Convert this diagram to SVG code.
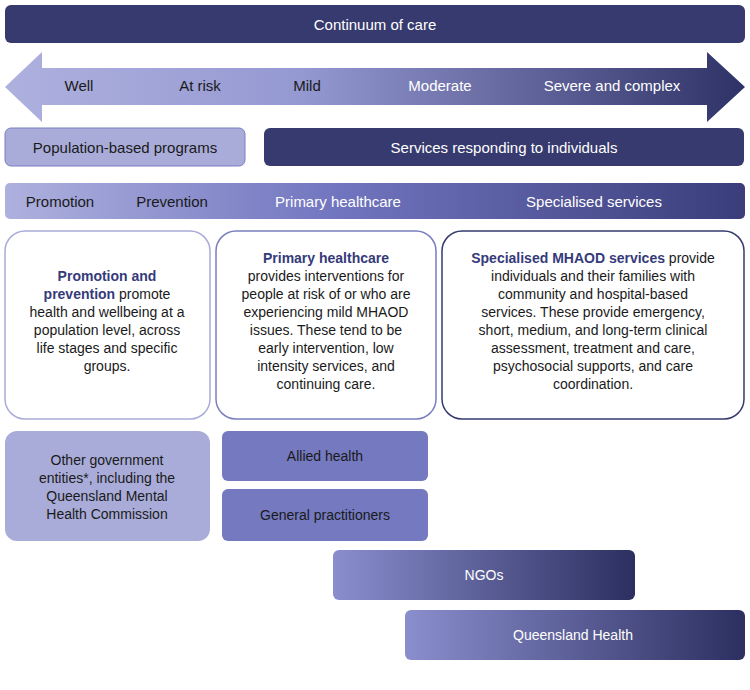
<svg xmlns="http://www.w3.org/2000/svg" width="750" height="690" viewBox="0 0 750 690">
<defs>
<linearGradient id="gArrow" x1="0" x2="1" y1="0" y2="0"><stop offset="0" stop-color="#aeb1de"/><stop offset="0.4" stop-color="#9599d2"/><stop offset="1" stop-color="#2f3266"/></linearGradient>
<linearGradient id="gBar" x1="0" x2="1" y1="0" y2="0"><stop offset="0" stop-color="#aeb1de"/><stop offset="0.45" stop-color="#7175bf"/><stop offset="1" stop-color="#3a3d7a"/></linearGradient>
<linearGradient id="gBox" x1="0" x2="1" y1="0" y2="0"><stop offset="0" stop-color="#8a8ecd"/><stop offset="1" stop-color="#2c2f60"/></linearGradient>
<style>
text{font-family:"Liberation Sans",Arial,sans-serif;font-size:15px;fill:#1a1a1a}
.w{fill:#fff}
.c{text-anchor:middle}
.b{font-size:14px}
.h{font-weight:bold;fill:#353a7a}
</style>
</defs>
<g id="continuum"><rect x="5" y="5" width="740" height="38" rx="6" fill="#363a6e"/><text class="w c" x="375" y="30">Continuum of care</text></g>
<g id="arrow"><path d="M5 87 L42 52 L42 68 L707 68 L707 52 L745 87 L707 122 L707 105 L42 105 L42 122 Z" fill="url(#gArrow)"/>
<text class="c" x="79" y="91">Well</text><text class="c" x="200" y="91">At risk</text><text class="c" x="307" y="91">Mild</text><text class="w c" x="440" y="91">Moderate</text><text class="w c" x="612" y="91">Severe and complex</text></g>
<g id="pop"><rect x="5" y="128" width="240" height="38" rx="6" fill="#a9acd9" stroke="#7a7fc0"/><text class="c" x="125" y="153">Population-based programs</text></g>
<g id="serv"><rect x="264" y="128" width="480" height="38" rx="6" fill="#363a6e"/><text class="w c" x="504" y="153">Services responding to individuals</text></g>
<g id="bar"><rect x="5" y="183" width="740" height="36" rx="5" fill="url(#gBar)"/>
<text class="c" x="60" y="207">Promotion</text><text class="c" x="172" y="207">Prevention</text><text class="w c" x="338" y="207">Primary healthcare</text><text class="w c" x="594" y="207">Specialised services</text></g>
<g id="box1"><rect x="5" y="231" width="205" height="188" rx="20" fill="#fff" stroke="#a9acd9" stroke-width="1.5"/>
<text class="b c" x="107" y="281"><tspan class="h">Promotion and</tspan></text>
<text class="b c" x="107" y="299"><tspan class="h">prevention</tspan> promote</text>
<text class="b c" x="107" y="317">health and wellbeing at a</text>
<text class="b c" x="107" y="335">population level, across</text>
<text class="b c" x="107" y="353">life stages and specific</text>
<text class="b c" x="107" y="371">groups.</text></g>
<g id="box2"><rect x="216" y="231" width="220" height="188" rx="20" fill="#fff" stroke="#7a7fc0" stroke-width="1.5"/>
<text class="b c h" x="326" y="263">Primary healthcare</text>
<text class="b c" x="326" y="281">provides interventions for</text>
<text class="b c" x="326" y="299">people at risk of or who are</text>
<text class="b c" x="326" y="317">experiencing mild MHAOD</text>
<text class="b c" x="326" y="335">issues. These tend to be</text>
<text class="b c" x="326" y="353">early intervention, low</text>
<text class="b c" x="326" y="371">intensity services, and</text>
<text class="b c" x="326" y="389">continuing care.</text></g>
<g id="box3"><rect x="442" y="231" width="302" height="188" rx="20" fill="#fff" stroke="#363a6e" stroke-width="1.5"/>
<text class="b c" x="593" y="263"><tspan class="h">Specialised MHAOD services</tspan> provide</text>
<text class="b c" x="593" y="281">individuals and their families with</text>
<text class="b c" x="593" y="299">community and hospital-based</text>
<text class="b c" x="593" y="317">services. These provide emergency,</text>
<text class="b c" x="593" y="335">short, medium, and long-term clinical</text>
<text class="b c" x="593" y="353">assessment, treatment and care,</text>
<text class="b c" x="593" y="371">psychosocial supports, and care</text>
<text class="b c" x="593" y="389">coordination.</text></g>
<g id="other"><rect x="5" y="431" width="205" height="110" rx="12" fill="#a9acd9"/>
<text class="b c" x="107" y="465">Other government</text><text class="b c" x="107" y="483">entities*, including the</text><text class="b c" x="107" y="501">Queensland Mental</text><text class="b c" x="107" y="519">Health Commission</text></g>
<g id="allied"><rect x="222" y="431" width="206" height="50" rx="6" fill="#7479c0"/><text class="b c" x="325" y="461">Allied health</text></g>
<g id="gp"><rect x="222" y="489" width="206" height="52" rx="6" fill="#7479c0"/><text class="b c" x="325" y="520">General practitioners</text></g>
<g id="ngo"><rect x="333" y="550" width="302" height="50" rx="6" fill="url(#gBox)"/><text class="b w c" x="484" y="580">NGOs</text></g>
<g id="qh"><rect x="405" y="610" width="340" height="50" rx="6" fill="url(#gBox)"/><text class="b w c" x="573" y="640">Queensland Health</text></g>
<g id="connectors"/>
</svg>
